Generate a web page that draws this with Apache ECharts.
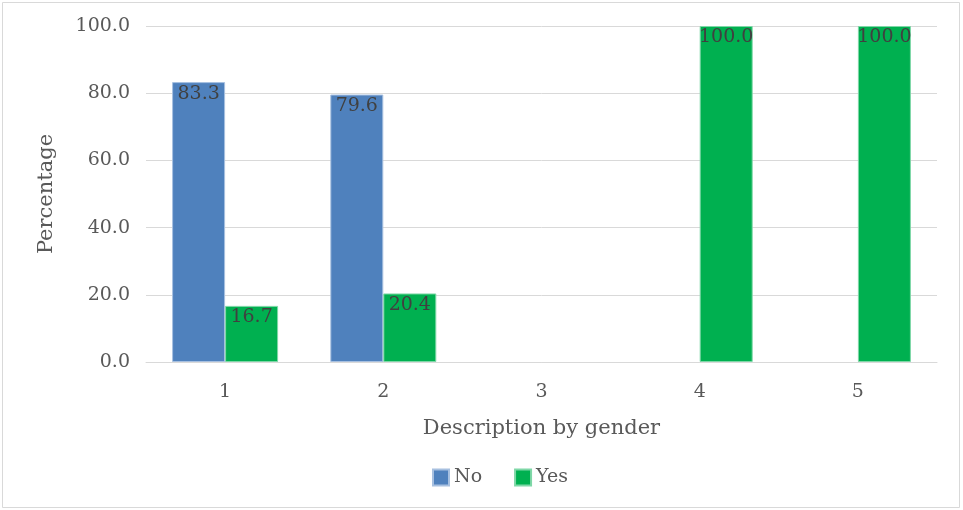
<!DOCTYPE html>
<html>
<head>
<meta charset="utf-8">
<script src="https://cdn.jsdelivr.net/npm/echarts@6/dist/echarts.min.js"></script>
<style>
  html, body { margin: 0; padding: 0; background: #fff; }
  #chart { width: 963px; height: 510px; }
</style>
</head>
<body>
<div id="chart"></div>
<script>
// Share of answers per description, split by response
const categories = ['1', '2', '3', '4', '5'];
const noValues = [83.3, 79.6, null, null, null];
const yesValues = [16.7, 20.4, null, 100.0, 100.0];
const yTicks = [0, 20, 40, 60, 80, 100];

const FONT = 'DejaVu Serif';
const chart = echarts.init(document.getElementById('chart'));

const valueLabel = {
  show: true,
  position: 'insideTop',
  distance: 2,
  fontFamily: FONT,
  fontSize: 19,
  color: '#404040',
  formatter: p => Number(p.value).toFixed(1)
};

chart.setOption({
  animation: false,
  backgroundColor: '#fff',
  graphic: [{
    type: 'rect',
    shape: { x: 2.5, y: 2.5, width: 957, height: 505 },
    style: { fill: 'none', stroke: '#d9d9d9', lineWidth: 1 },
    silent: true
  }],
  grid: { left: 146, right: 26, top: 26, bottom: 148 },
  legend: {
    data: ['No', 'Yes'],
    top: 463,
    left: 427,
    itemWidth: 16,
    itemHeight: 16,
    itemGap: 32,
    icon: 'rect',
    textStyle: { fontFamily: FONT, fontSize: 19, color: '#595959' }
  },
  xAxis: {
    type: 'category',
    data: categories,
    name: 'Description by gender',
    nameLocation: 'middle',
    nameGap: 56,
    nameTextStyle: { fontFamily: FONT, fontSize: 21, color: '#595959' },
    axisLine: { show: true, lineStyle: { color: '#d9d9d9' } },
    axisTick: { show: false },
    axisLabel: { fontFamily: FONT, fontSize: 19, color: '#595959', margin: 21 }
  },
  yAxis: {
    type: 'value',
    min: yTicks[0],
    max: yTicks[yTicks.length - 1],
    interval: 20,
    name: 'Percentage',
    nameLocation: 'middle',
    nameGap: 89,
    nameRotate: 90,
    nameTextStyle: { fontFamily: FONT, fontSize: 21, color: '#595959' },
    axisLine: { show: false },
    axisTick: { show: false },
    splitLine: { lineStyle: { color: '#d9d9d9', width: 1 } },
    axisLabel: {
      fontFamily: FONT, fontSize: 19, color: '#595959', margin: 16,
      formatter: v => v.toFixed(1)
    }
  },
  series: [
    {
      name: 'No',
      type: 'bar',
      data: noValues,
      barGap: '0%',
      barCategoryGap: '33%',
      itemStyle: { color: '#4f81bd', borderColor: '#a7c0e0', borderWidth: 1 },
      label: valueLabel
    },
    {
      name: 'Yes',
      type: 'bar',
      data: yesValues,
      barGap: '0%',
      barCategoryGap: '33%',
      itemStyle: { color: '#00b050', borderColor: '#7fd7a7', borderWidth: 1 },
      label: valueLabel
    }
  ]
});
</script>
</body>
</html>
